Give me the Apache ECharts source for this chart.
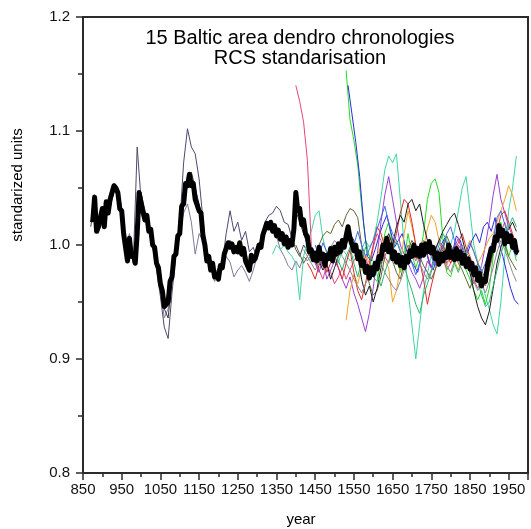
<!DOCTYPE html>
<html>
<head>
<meta charset="utf-8">
<script src="https://cdn.jsdelivr.net/npm/echarts@6/dist/echarts.min.js"></script>
<style>
  html, body { margin: 0; padding: 0; background: #fff; }
  #chart { width: 531px; height: 529px; }
</style>
</head>
<body>
<div id="chart"></div>
<script>
// ---- tick labels ----
const yearTicks = [850, 950, 1050, 1150, 1250, 1350, 1450, 1550, 1650, 1750, 1850, 1950];
const unitTicks = [0.8, 0.9, 1.0, 1.1, 1.2];

// ---- mean of all chronologies (5-year steps) ----
const meanStart = 875;
const meanStep = 5;
const meanValues = [
  1.020,1.042,1.012,1.016,1.024,1.032,1.016,1.038,1.028,1.040,
  1.040,1.052,1.050,1.046,1.032,1.030,1.010,0.998,0.986,1.006,
  0.990,0.992,0.984,1.010,1.046,1.036,1.036,1.022,1.026,1.012,
  1.014,1.000,0.998,0.984,0.980,0.966,0.960,0.946,0.948,0.950,
  0.968,0.972,0.990,0.992,1.008,1.010,1.034,1.036,1.054,1.052,
  1.062,1.052,1.054,1.040,1.040,1.030,1.028,1.008,1.000,0.986,
  0.990,0.978,0.984,0.972,0.974,0.970,0.982,0.980,0.992,0.992,
  1.002,0.998,1.001,0.994,0.998,0.994,1.002,0.992,0.997,0.986,
  0.987,0.978,0.991,0.986,0.988,0.988,1.000,0.998,1.009,1.008,
  1.019,1.015,1.020,1.012,1.017,1.008,1.013,1.005,1.010,1.001,
  1.007,0.998,1.004,1.000,1.014,1.046,1.030,1.032,1.018,1.022,
  1.010,1.007,0.994,0.996,0.987,0.993,0.986,0.998,0.988,0.992,
  0.982,0.991,0.988,0.997,0.986,0.998,0.992,1.001,0.994,1.004,
  0.998,1.008,1.016,1.006,1.007,0.995,1.000,0.988,0.994,0.982,
  0.986,0.976,0.981,0.971,0.980,0.974,0.984,0.979,0.990,0.988,
  1.000,0.996,1.006,0.994,1.000,0.988,0.994,0.985,0.991,0.982,
  0.989,0.980,0.990,0.985,0.995,0.990,1.000,0.991,0.997,0.990,
  1.000,0.991,1.001,0.994,1.003,0.993,0.998,0.988,0.993,0.983,
  0.992,0.986,0.993,0.989,1.000,0.989,0.994,0.987,0.997,0.988,
  0.994,0.984,0.991,0.981,0.988,0.979,0.984,0.974,0.980,0.969,
  0.975,0.964,0.970,0.968,0.982,0.982,0.997,0.995,1.007,1.004,
  1.017,1.008,1.013,1.001,1.010,1.003,1.008,0.998,1.004,0.994,
  0.993
];

// ---- individual site chronologies (10-year steps) ----
const longAStart = 870;
const longAValues = [
  1.016,1.038,1.012,1.030,1.036,1.032,1.050,1.042,1.026,0.994,
  1.004,0.984,1.086,1.040,1.026,1.012,0.998,0.978,0.955,0.928,
  0.918,0.958,0.992,1.018,1.072,1.102,1.086,1.080,1.058,1.022,
  0.992,0.980,0.972,0.976,0.984,1.010,1.030,1.012,1.020,1.004,
  1.012,0.994,0.998,0.988,1.004,1.020,1.026,1.028,1.034,1.030,
  1.020,1.018,1.006,0.996,0.990,1.000,0.994,0.988,0.986,0.980
];
const longBStart = 870;
const longBValues = [
  1.020,1.044,1.010,1.024,1.030,1.038,1.054,1.046,1.030,0.998,
  1.010,0.990,1.004,1.046,1.030,1.020,1.004,0.984,0.962,0.936,
  0.944,0.975,0.998,1.012,1.028,1.036,1.020,0.992,1.010,1.004,
  0.994,0.980,0.968,0.974,0.980,0.990,0.985,0.972,0.978,0.982,
  0.976,0.968,0.978,0.990,1.000,1.010,1.016,1.012,1.008,0.996,
  0.990,0.982,0.978,0.986,0.980,0.990,0.986,0.992,0.984
];
const longCStart = 880;
const longCValues = [
  1.030,1.014,1.026,1.038,1.034,1.046,1.050,1.032,1.000,0.996,
  0.990,1.000,1.046,1.030,1.016,1.006,0.988,0.966,0.944,0.936,
  0.970,0.996,1.020,1.040,1.060,1.064,1.050,1.036,1.010,0.994,
  0.986,0.974,0.980,0.986,0.996,1.004,0.994,1.000,0.990,0.996,
  0.976,0.986,0.996,1.004,1.014,1.020,1.018,1.014,1.010,1.006,
  0.998,1.004,1.030,1.020,1.010,1.000
];
const tealStart = 1340;
const tealValues = [
  0.992,1.000,0.996,
  1.000,0.994,0.990,0.984,0.952,0.990,1.004,1.012,1.026,1.030,
  1.006,0.992,0.998,0.990,0.984,0.996,0.992,0.986,0.990,0.994,
  0.996,1.004,0.998,1.004,1.020,1.042,1.066,1.078,1.072,1.080,
  1.040,1.000,0.960,0.930,0.900,0.930,0.960,0.975,0.990,0.985,
  0.996,0.990,0.998,1.000,1.012,1.030,1.050,1.060,1.030,1.000,
  0.985,0.970,0.955,0.944,0.930,0.922,0.950,0.990,1.030,1.050,1.078
];
const pinkStart = 1400;
const pinkValues = [
  1.140,1.126,1.108,1.074,1.000,0.985,0.978,0.970,0.982,0.976,
  0.966,0.972,0.980,0.970,0.978,0.986,0.992,0.982,0.990,0.978,
  0.998,1.010,1.004,0.990,0.984,0.996,0.988,0.978,0.990,1.000,
  0.994,0.986,0.996,1.004,0.992,0.980,0.986,0.994,0.988,0.978,
  0.984,0.992,1.000,0.994,0.986,0.978,0.970,0.962,0.970,0.964,
  0.978,0.992,1.004,1.012,1.020,1.010,1.000,0.994
];
const greenStart = 1530;
const greenValues = [
  1.153,1.110,1.092,1.070,1.034,1.005,0.990,0.972,0.968,0.988,
  1.010,1.020,1.000,0.990,0.976,0.986,1.010,0.992,0.980,0.990,
  1.010,1.040,1.054,1.058,1.046,1.006,0.976,0.972,0.984,0.994,
  0.986,0.978,0.970,0.960,0.952,0.960,0.948,0.962,0.990,1.010,
  1.020,1.004,0.990,1.000,0.986
];
const blueStart = 1535;
const blueValues = [
  1.140,1.115,1.090,1.060,1.020,0.990,0.986,0.996,1.008,1.018,
  1.026,1.012,0.998,1.004,1.010,0.996,0.988,0.982,0.976,0.992,
  0.996,0.984,0.978,0.990,1.000,1.006,0.996,0.994,1.008,1.004,
  0.992,0.994,1.004,1.010,1.002,1.016,1.020,1.012,1.024,1.002,
  0.990,0.976,0.962,0.952,0.948
];
const purpleStart = 1440;
const purpleValues = [
  0.990,0.984,0.976,0.988,0.970,0.978,0.986,0.980,0.970,0.962,
  0.972,0.958,0.948,0.936,0.924,0.940,0.962,0.990,1.020,1.044,
  1.060,1.040,1.020,1.000,0.992,0.984,0.976,0.970,0.962,0.972,
  0.986,0.980,0.994,1.004,0.996,0.984,0.990,0.998,1.006,0.994,
  0.986,0.976,0.966,0.972,0.982,1.000,1.020,1.044,1.062,1.040,
  1.028,1.016,1.008,0.996
];
const orangeStart = 1530;
const orangeValues = [
  0.934,0.960,0.974,0.966,0.980,0.992,0.984,0.976,0.990,1.000,
  0.986,0.980,0.950,0.960,0.980,1.010,1.030,1.016,1.000,0.988,
  0.998,1.014,1.026,1.020,1.004,0.990,0.982,0.992,0.986,0.978,
  0.990,0.996,1.004,0.994,0.984,0.990,0.998,1.006,1.010,1.020,
  1.030,1.040,1.052,1.044,1.030
];
const redStart = 1430;
const redValues = [
  0.984,0.978,0.970,0.982,0.990,0.976,0.984,0.992,0.980,0.970,
  0.984,0.996,0.976,0.960,0.952,0.966,0.984,1.000,1.016,1.010,
  0.998,1.006,0.996,1.010,1.028,1.040,1.036,1.020,1.000,0.986,
  0.970,0.948,0.964,0.978,0.990,1.000,0.992,0.984,0.996,1.002,
  1.010,0.998,0.990,0.980,0.972,0.964,0.974,0.986,1.000,1.012,
  1.026,1.030,1.020,1.010,1.000
];
const oliveStart = 1400;
const oliveValues = [
  1.000,0.992,0.984,0.990,0.996,0.988,1.000,1.008,1.012,1.010,
  1.018,1.022,1.016,1.026,1.032,1.030,1.024,1.000,0.980,0.966,
  0.956,0.960,0.972,0.990,0.998,0.986,0.976,0.970,0.984,0.996,
  1.004,0.998,0.990,0.982,0.976,0.970,0.978,0.988,0.996,1.008,
  1.000,0.994,0.984,0.978,0.970,0.962,0.972,0.984,0.978,0.970,
  0.980,0.994,1.004,1.010,1.000,0.990,0.984,0.978
];
const darkStart = 1440;
const darkValues = [
  0.996,0.990,0.986,0.978,0.984,0.970,0.980,0.990,0.996,1.000,
  1.010,1.004,0.990,0.970,0.956,0.964,0.950,0.962,0.980,1.002,
  1.010,1.000,1.016,1.026,1.020,1.036,1.040,1.030,1.036,1.018,
  1.004,0.992,0.996,1.004,1.012,1.018,1.024,1.028,1.018,1.006,
  0.992,0.976,0.960,0.946,0.936,0.930,0.942,0.962,0.984,0.998,
  1.010,1.014,1.020,1.012
];
const grayStart = 1420;
const grayValues = [
  0.996,0.990,0.984,0.978,0.984,0.992,0.988,0.998,1.004,1.000,
  0.990,0.984,0.978,0.970,0.964,0.958,0.966,0.972,0.980,0.990,
  0.984,0.976,0.970,0.964,0.960,0.968,0.978,0.990,0.998,0.992,
  0.984,0.976,0.970,0.978,0.988,0.996,0.990,0.982,0.976,0.986,
  0.994,1.000,0.990,0.978,0.968,0.960,0.966,0.958,0.968,0.980,
  0.994,1.004,0.996,0.986,0.976,0.968
];
const royalStart = 1450;
const royalValues = [
  1.000,0.990,1.002,0.994,0.986,0.992,1.000,0.994,1.004,1.010,
  1.000,1.012,1.000,0.990,0.996,1.004,1.014,1.024,1.034,1.020,
  1.010,1.004,0.994,0.986,0.992,0.984,0.974,0.984,0.994,1.000,
  0.990,0.982,0.992,1.000,1.010,1.016,1.004,0.994,0.986,0.994,
  1.002,0.994,0.984,0.976,0.984,0.996,1.004,1.024,1.030,1.018,
  1.006,0.996,0.990
];
const seaStart = 1500;
const seaValues = [
  0.996,0.986,0.978,0.990,0.998,0.984,0.972,0.986,0.998,0.990,
  0.986,0.974,0.964,0.976,0.986,0.996,1.004,0.996,0.982,0.970,
  0.960,0.948,0.940,0.956,0.966,0.976,0.990,1.000,1.010,1.004,
  0.996,0.984,0.976,0.986,0.994,0.988,0.978,0.968,0.956,0.946,
  0.950,0.964,0.978,0.992,1.004,1.016,1.024,1.016
];

// ---- drawing ----
const FONT = '"Liberation Sans", Arial, sans-serif';
const AXIS_COLOR = '#2b2b2b';

function pairs(start, step, values) {
  return values.map((v, i) => [start + i * step, v]);
}

const siteLines = [
  [longAStart, longAValues, '#4b4b70'],
  [longBStart, longBValues, '#7c7c9c'],
  [longCStart, longCValues, '#3a3a3a'],
  [tealStart, tealValues, '#3fd8a2'],
  [pinkStart, pinkValues, '#e8447e'],
  [greenStart, greenValues, '#22dd22'],
  [blueStart, blueValues, '#2a2ae0'],
  [purpleStart, purpleValues, '#9b3fd4'],
  [orangeStart, orangeValues, '#f0a428'],
  [redStart, redValues, '#e02a2a'],
  [oliveStart, oliveValues, '#5c6a36'],
  [darkStart, darkValues, '#1e1e1e'],
  [grayStart, grayValues, '#8c8c8c'],
  [royalStart, royalValues, '#4466ee'],
  [seaStart, seaValues, '#2bb673']
];

const series = siteLines.map(([start, values, color]) => ({
  type: 'line',
  data: pairs(start, 10, values),
  symbol: 'none',
  silent: true,
  z: 2,
  lineStyle: { color: color, width: 1 }
}));

series.push({
  type: 'line',
  data: pairs(meanStart, meanStep, meanValues),
  symbol: 'none',
  silent: true,
  z: 5,
  lineStyle: { color: '#000', width: 5, join: 'round' }
});

const chart = echarts.init(document.getElementById('chart'), null, { renderer: 'canvas' });
chart.setOption({
  animation: false,
  backgroundColor: '#fff',
  grid: {
    left: 83, top: 17, width: 451, height: 456,
    show: true, borderColor: AXIS_COLOR, borderWidth: 2, backgroundColor: 'transparent'
  },
  xAxis: [
    {
      type: 'value', min: 850, max: 2000, interval: 100,
      axisLine: { show: true, lineStyle: { color: AXIS_COLOR, width: 2 } },
      axisTick: { show: true, length: 7, lineStyle: { color: AXIS_COLOR, width: 1.5 } },
      axisLabel: {
        color: '#111', fontSize: 15, fontFamily: FONT, margin: 9,
        formatter: v => (yearTicks.indexOf(v) >= 0 ? String(v) : '')
      },
      splitLine: { show: false }
    },
    {
      type: 'value', min: 850, max: 2000, interval: 50, position: 'bottom',
      axisLine: { show: false },
      axisTick: { show: true, length: 4, lineStyle: { color: AXIS_COLOR, width: 1.5 } },
      axisLabel: { show: false },
      splitLine: { show: false }
    }
  ],
  yAxis: {
    type: 'value', min: 0.8, max: 1.2, interval: 0.1,
    axisLine: { show: true, lineStyle: { color: AXIS_COLOR, width: 2 } },
    axisTick: { show: true, length: 7, lineStyle: { color: AXIS_COLOR, width: 1.5 } },
    minorTick: { show: true, splitNumber: 2, length: 5, lineStyle: { color: AXIS_COLOR, width: 1.5 } },
    axisLabel: {
      color: '#111', fontSize: 15, fontFamily: FONT, margin: 13,
      formatter: v => {
        const hit = unitTicks.find(t => Math.abs(t - v) < 1e-6);
        return hit === undefined ? '' : hit.toFixed(1);
      }
    },
    splitLine: { show: false }
  },
  graphic: [
    {
      type: 'text', x: 300, y: 38, silent: true,
      style: { text: '15 Baltic area dendro chronologies', font: '20px ' + FONT, fill: '#000',
               align: 'center', verticalAlign: 'middle', textAlign: 'center', textVerticalAlign: 'middle' }
    },
    {
      type: 'text', x: 300, y: 58, silent: true,
      style: { text: 'RCS standarisation', font: '20px ' + FONT, fill: '#000',
               align: 'center', verticalAlign: 'middle', textAlign: 'center', textVerticalAlign: 'middle' }
    },
    {
      type: 'text', x: 18, y: 185, rotation: Math.PI / 2, silent: true,
      style: { text: 'standarized units', font: '15px ' + FONT, fill: '#000',
               align: 'center', verticalAlign: 'middle', textAlign: 'center', textVerticalAlign: 'middle' }
    },
    {
      type: 'text', x: 301, y: 520, silent: true,
      style: { text: 'year', font: '15px ' + FONT, fill: '#000',
               align: 'center', verticalAlign: 'middle', textAlign: 'center', textVerticalAlign: 'middle' }
    }
  ],
  series: series
});
</script>
</body>
</html>
